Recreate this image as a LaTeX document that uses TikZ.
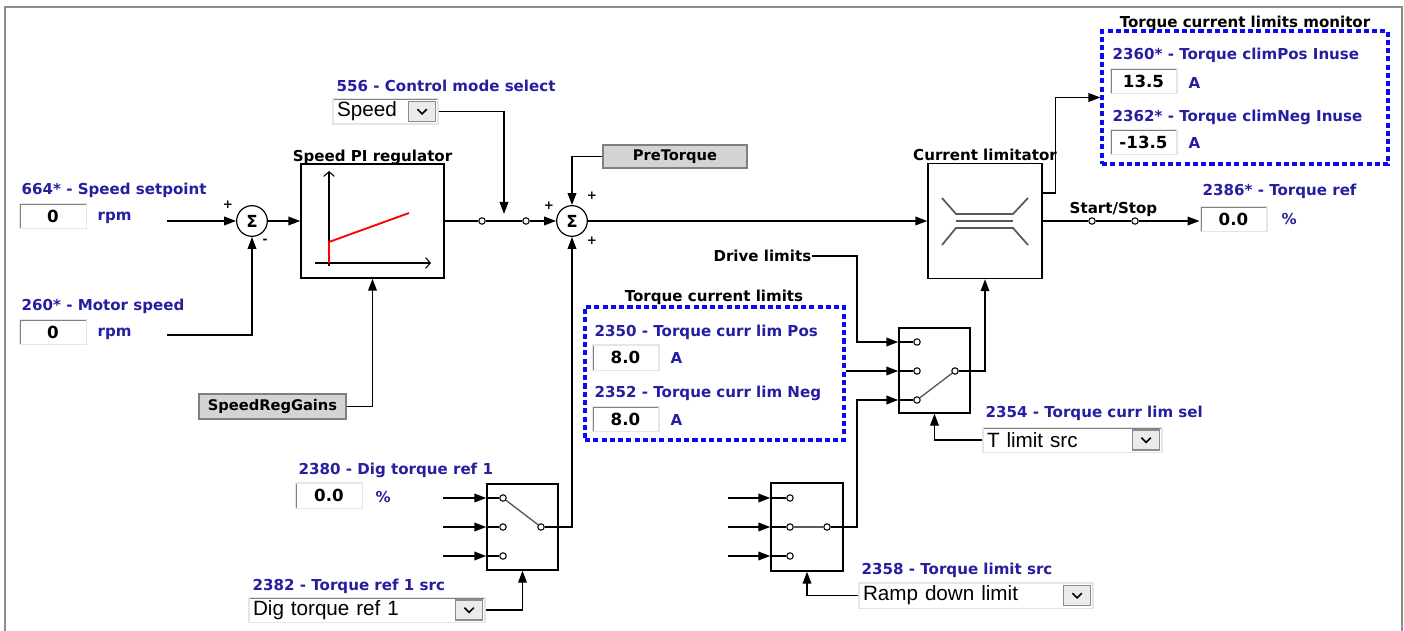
\documentclass[tikz,border=0pt]{standalone}
\usepackage{fontspec}
\setmainfont{DejaVu Sans}
\newfontfamily\ddfont{Liberation Sans}
\usetikzlibrary{arrows.meta}
\definecolor{lblue}{RGB}{38,30,160}
\definecolor{dashblue}{RGB}{10,10,245}

\begin{document}
\begin{tikzpicture}[x=0.75pt,y=-0.75pt,line width=1.1pt,
      font=\fontsize{11.3}{13}\selectfont\bfseries,
      lbl/.style={anchor=west,inner sep=0pt,text=lblue},
      ttl/.style={inner sep=0pt},
      sgn/.style={inner sep=0pt,font=\fontsize{9}{10}\selectfont\bfseries},
      arr/.style={-{Triangle[length=9pt,width=6.5pt]}},
      sunk/.style={draw=black!10,line width=1pt,fill=white,
        path picture={\draw[black!50,line width=2.2pt] (path picture bounding box.south west)
          -- (path picture bounding box.north west) -- (path picture bounding box.north east);}},
      val/.style={sunk,minimum width=50pt,minimum height=19pt,inner sep=0pt,font=\fontsize{12.5}{14}\selectfont\bfseries},
      dd/.style={sunk,minimum height=19pt,inner xsep=3pt,inner ysep=0pt,text width=#1,align=left,
        font=\ddfont\fontsize{15.5}{17}\selectfont},
      ddbtn/.style={draw=black!45,fill=black!8,line width=0.8pt,minimum width=20pt,minimum height=15pt,inner sep=0pt,
        path picture={\draw[black,line width=1.2pt] ([xshift=-3.5pt,yshift=1.8pt]path picture bounding box.center)
          -- ([yshift=-1.8pt]path picture bounding box.center) -- ([xshift=3.5pt,yshift=1.8pt]path picture bounding box.center);}},
      btn/.style={draw=black!50,fill=black!17,line width=1pt,inner sep=0pt,font=\fontsize{11}{13}\selectfont\bfseries,
        path picture={\draw[white,line width=2pt] (path picture bounding box.south west)
          -- (path picture bounding box.north west) -- (path picture bounding box.north east);}},
      blk/.style={draw,fill=white,line width=1.1pt,inner sep=0pt},
      sumc/.style={circle,draw,fill=white,minimum size=23pt,inner sep=0pt,line width=0.9pt,
        font=\fontsize{12.5}{14}\selectfont\bfseries},
      term/.style={circle,draw,fill=white,minimum size=4.8pt,inner sep=0pt,line width=0.8pt},
      dbox/.style={draw=dashblue,line width=2.3pt,dash pattern=on 3.8pt off 2.4pt,inner sep=0pt},
      lever/.style={black!65,line width=1pt},
      sym/.style={black!65,line width=1.3pt},
      axis/.style={line width=0.8pt,-{Straight Barb[length=3.5pt,width=8pt]}}]
    \useasboundingbox (0,0) rectangle (1404,631);
    % panel frame
    \draw[black!45,line width=1.6pt] (5,631) -- (5,7) -- (1402,7) -- (1402,631);

    % speed setpoint / motor speed
    \node[lbl] (spLbl) at (21,190) {664* - Speed setpoint};
    \node[val] (spVal) at (53,216) {0};
    \node[lbl] (spUnit) at (97,218) {rpm};
    \coordinate (spOut) at (167,221);
    \node[lbl] (msLbl) at (21,306) {260* - Motor speed};
    \node[val] (msVal) at (53,332) {0};
    \node[lbl] (msUnit) at (97,334) {rpm};
    \coordinate (msOut) at (167,335);
    \node[sumc] (sum1) at (252,221) {Σ};
    \node[sgn] (s1a) at (228,205) {+};
    \node[sgn] (s1b) at (265,241) {-};
    \draw[arr] (spOut) -- (sum1);
    \draw[arr] (msOut) -| (sum1);

    % speed PI regulator
    \node[blk,minimum width=107.25pt,minimum height=85.5pt] (pi) at (372.5,221) {};
    \node[ttl] (piTtl) at (372.5,157) {Speed PI regulator};
    \draw[axis] (329,266) -- (329,171);
    \draw[axis] (315,263) -- (431,263);
    \draw[red,line width=1.4pt] (329,263) -- (329,242) -- (409,213);
    \draw[arr] (sum1) -- (pi);
    \node[btn,minimum width=110.25pt,minimum height=18.75pt] (srg) at (272.5,406.5) {SpeedRegGains};
    \draw[arr] (srg) -| (pi);

    % control mode select
    \node[lbl] (cmLbl) at (336,86) {556 - Control mode select};
    \node[dd=72.75pt] (cmDd) at (385.5,111.5) {Speed};
    \node[ddbtn,anchor=east] (cmBtn) at ([xshift=-2pt]cmDd.east) {};
    \coordinate (cmIn) at (504,214);
    \draw[arr] (cmDd) -| (cmIn);
    \node[term] (t1) at (482,221) {};
    \node[term] (t2) at (526,221) {};
    \draw (pi) -- (t1);
    \draw (t1) -- (t2);

    % torque sum
    \node[sumc] (sum2) at (572,221) {Σ};
    \node[sgn] (s2a) at (549,206) {+};
    \node[sgn] (s2b) at (592,196) {+};
    \node[sgn] (s2c) at (592,241) {+};
    \draw[arr] (t2) -- (sum2);
    \node[btn,minimum width=108pt,minimum height=17.25pt] (pt) at (675,156.5) {PreTorque};
    \draw[arr] (pt) -| (sum2);

    % current limitator
    \node[blk,minimum width=85.5pt,minimum height=86.25pt] (cl) at (985,221) {};
    \node[ttl] (clTtl) at (985,155) {Current limitator};
    \draw[sym] (942,198) -- (956,214) -- (1013,214) -- (1028,198);
    \draw[sym] (956,221) -- (1013,221);
    \draw[sym] (942,245) -- (956,228) -- (1013,228) -- (1028,245);
    \draw[arr] (sum2) -- (cl);

    % limits monitor
    \node[dbox,minimum width=214.5pt,minimum height=99.75pt] (mon) at (1245,97.5) {};
    \node[ttl] (monTtl) at (1245,23) {Torque current limits monitor};
    \node[lbl] (cpLbl) at (1112,55) {2360* - Torque climPos Inuse};
    \node[val] (cpVal) at (1143.5,81) {13.5};
    \node[lbl] (cpUnit) at (1188,83) {A};
    \node[lbl] (cnLbl) at (1112,117) {2362* - Torque climNeg Inuse};
    \node[val] (cnVal) at (1143.5,142) {-13.5};
    \node[lbl] (cnUnit) at (1188,143) {A};
    \draw[arr] ([yshift=21pt]cl.east) -- ++(13,0) |- (mon);

    % start/stop and torque ref
    \node[term] (ss1) at (1092,221) {};
    \node[term] (ss2) at (1135,221) {};
    \node[ttl] (ssLbl) at (1113.5,209) {Start/Stop};
    \node[lbl] (trLbl) at (1202,191) {2386* - Torque ref};
    \node[val] (trVal) at (1233.5,219) {0.0};
    \node[lbl] (trUnit) at (1281,219) {\%};
    \draw (cl) -- (ss1);
    \draw (ss1) -- (ss2);
    \draw[arr] (ss2) -- (trVal.west|-ss2);

    % torque current limits
    \node[dbox,minimum width=194.25pt,minimum height=99.75pt] (tcl) at (714.5,373.5) {};
    \node[ttl] (tclTtl) at (714,297) {Torque current limits};
    \node[lbl] (lpLbl) at (594,332) {2350 - Torque curr lim Pos};
    \node[val] (lpVal) at (625.5,357.5) {8.0};
    \node[lbl] (lpUnit) at (670,358) {A};
    \node[lbl] (lnLbl) at (594,393) {2352 - Torque curr lim Neg};
    \node[val] (lnVal) at (625.5,419) {8.0};
    \node[lbl] (lnUnit) at (670,420) {A};

    % limit selector switch
    \node[blk,minimum width=53.25pt,minimum height=63.75pt] (lsw) at (934.5,370.5) {};
    \node[term] (lt1) at (917,342) {};
    \node[term] (lt2) at (917,371) {};
    \node[term] (lt3) at (917,400) {};
    \node[term] (lo) at (955,371) {};
    \draw[lever] (lt3) -- (lo);
    \node[ttl,anchor=east] (dl) at (812,256) {Drive limits};
    \coordinate (dlBend) at (857,256);
    \draw[arr] (dl) -- (dlBend) |- (lsw.west|-lt1);
    \draw (lsw.west|-lt1) -- (lt1);
    \draw[arr] (tcl.east|-lt2) -- (lsw.west|-lt2);
    \draw (lsw.west|-lt2) -- (lt2);
    \draw (lsw.west|-lt3) -- (lt3);
    \draw[arr] (lo) -| (cl);
    \node[lbl] (tlLbl) at (985,413) {2354 - Torque curr lim sel};
    \node[dd=128.25pt] (tlDd) at (1072.5,440) {T limit src};
    \node[ddbtn,anchor=east] (tlBtn) at ([xshift=-2pt]tlDd.east) {};
    \draw[arr] (tlDd) -| (lsw);

    % torque ref 1 selector
    \node[lbl] (dtLbl) at (298,470) {2380 - Dig torque ref 1};
    \node[val] (dtVal) at (329,495.5) {0.0};
    \node[lbl] (dtUnit) at (375,497) {\%};
    \node[blk,minimum width=53.25pt,minimum height=64.5pt] (tsw) at (522.5,527) {};
    \node[term] (tt1) at (503,498) {};
    \node[term] (tt2) at (503,527) {};
    \node[term] (tt3) at (503,556) {};
    \node[term] (tOut) at (541,527) {};
    \draw[lever] (tt1) -- (tOut);
    \coordinate (tIn1) at (443,498);
    \coordinate (tIn2) at (443,527);
    \coordinate (tIn3) at (443,556);
    \draw[arr] (tIn1) -- (tsw.west|-tt1); \draw (tsw.west|-tt1) -- (tt1);
    \draw[arr] (tIn2) -- (tsw.west|-tt2); \draw (tsw.west|-tt2) -- (tt2);
    \draw[arr] (tIn3) -- (tsw.west|-tt3); \draw (tsw.west|-tt3) -- (tt3);
    \draw[arr] (tOut) -| (sum2);
    \node[lbl] (trsLbl) at (252,586) {2382 - Torque ref 1 src};
    \node[dd=171pt] (trDd) at (367,610) {Dig torque ref 1};
    \node[ddbtn,anchor=east] (trBtn) at ([xshift=-2pt]trDd.east) {};
    \draw[arr] (trDd) -| (tsw);

    % torque limit source selector
    \node[blk,minimum width=54pt,minimum height=66pt] (rsw) at (807,527) {};
    \node[term] (rt1) at (790,498) {};
    \node[term] (rt2) at (790,527) {};
    \node[term] (rt3) at (790,556) {};
    \node[term] (rOut) at (827,527) {};
    \draw[lever] (rt2) -- (rOut);
    \coordinate (rIn1) at (728,498);
    \coordinate (rIn2) at (728,527);
    \coordinate (rIn3) at (728,556);
    \draw[arr] (rIn1) -- (rsw.west|-rt1); \draw (rsw.west|-rt1) -- (rt1);
    \draw[arr] (rIn2) -- (rsw.west|-rt2); \draw (rsw.west|-rt2) -- (rt2);
    \draw[arr] (rIn3) -- (rsw.west|-rt3); \draw (rsw.west|-rt3) -- (rt3);
    \coordinate (rBend) at (857,527);
    \draw[arr] (rOut) -- (rBend) |- (lsw.west|-lt3);
    \node[lbl] (rdLbl) at (861,570) {2358 - Torque limit src};
    \node[dd=169.5pt] (rdDd) at (976,595.5) {Ramp down limit};
    \node[ddbtn,anchor=east] (rdBtn) at ([xshift=-2pt]rdDd.east) {};
    \draw[arr] (rdDd) -| (rsw);
  \end{tikzpicture}
\end{document}
